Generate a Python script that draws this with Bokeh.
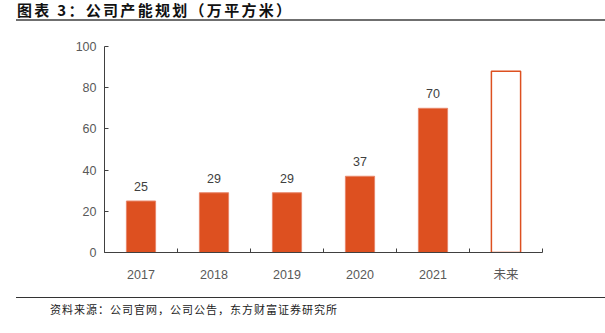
from bokeh.plotting import figure
from bokeh.models import ColumnDataSource, LabelSet, FixedTicker, Range1d, Div, Column
from bokeh.core.properties import value
from bokeh.embed import file_html
from bokeh.resources import INLINE

categories = ["2017", "2018", "2019", "2020", "2021", "未来"]
values = [25, 29, 29, 37, 70, 88]
labels = ["25", "29", "29", "37", "70", ""]
filled = [True, True, True, True, True, False]

title_text = "图表 3：公司产能规划（万平方米）"
source_text = "资料来源：公司官网，公司公告，东方财富证券研究所"

BAR = "#DD5020"

xs = [i + 0.5 for i in range(len(categories))]
src_f = ColumnDataSource(dict(x=[x for x, f in zip(xs, filled) if f],
                              top=[v for v, f in zip(values, filled) if f],
                              lab=[l for l, f in zip(labels, filled) if f]))
src_o = ColumnDataSource(dict(x=[x for x, f in zip(xs, filled) if not f],
                              top=[v for v, f in zip(values, filled) if not f]))

p = figure(width=605, height=272, output_backend="svg", toolbar_location=None,
           x_range=Range1d(0, len(categories)), y_range=Range1d(0, 100),
           min_border_left=104, min_border_right=63, min_border_top=23, min_border_bottom=43)
p.outline_line_color = None
p.xgrid.visible = False
p.ygrid.visible = False
p.background_fill_color = "white"
p.border_fill_color = "white"

p.vbar(x="x", top="top", width=0.4, bottom=0, source=src_f,
       fill_color=BAR, line_color="#E8866A", line_width=1)
p.vbar(x="x", top="top", width=0.4, bottom=0, source=src_o,
       fill_color="white", line_color=BAR, line_width=1.5)

p.add_layout(LabelSet(x="x", y="top", text="lab", source=src_f, y_offset=10,
                      text_align="center", text_baseline="bottom",
                      text_font=value("Liberation Sans"), text_font_size=value("12.5px"),
                      text_color="#404040"))

xa = p.xaxis[0]
xa.ticker = FixedTicker(ticks=xs, minor_ticks=list(range(len(categories) + 1)))
xa.major_label_overrides = {x: c for x, c in zip(xs, categories)}
xa.major_tick_line_color = None
xa.minor_tick_in = 4
xa.minor_tick_out = 0
xa.minor_tick_line_color = "#404040"
xa.axis_line_color = "#404040"
xa.major_label_standoff = 9
xa.major_label_text_font = "Liberation Sans, Noto Sans CJK SC"
xa.major_label_text_font_size = "12.5px"
xa.major_label_text_color = "#595959"

ya = p.yaxis[0]
ya.ticker = FixedTicker(ticks=[0, 20, 40, 60, 80, 100])
ya.major_tick_in = 4
ya.major_tick_out = 0
ya.minor_tick_line_color = None
ya.major_tick_line_color = "#404040"
ya.axis_line_color = "#404040"
ya.major_label_standoff = 8
ya.major_label_text_font = "Liberation Sans"
ya.major_label_text_font_size = "12.5px"
ya.major_label_text_color = "#595959"

top_div = Div(width=605, height=23, margin=(0, 0, 0, 0), text=(
    '<div style="margin-left:16px;width:589px;height:19px;border-bottom:2px solid #6f6f6f;'
    'font-family:\'Noto Sans CJK SC\';font-weight:bold;font-size:15px;line-height:19px;'
    'letter-spacing:2.3px;color:#111;padding-left:1px;box-sizing:content-box;">' + title_text + '</div>'))
bot_div = Div(width=605, height=38, margin=(0, 0, 0, 0), text=(
    '<div style="margin-left:16px;margin-top:2px;width:589px;border-top:1px solid #333;"></div>'
    '<div style="margin-left:50px;margin-top:4px;font-family:\'Noto Sans CJK SC\';'
    'font-size:11px;line-height:14px;letter-spacing:1px;color:#222;">' + source_text + '</div>'))

layout = Column(top_div, p, bot_div, spacing=0, margin=(0, 0, 0, 0))
open("out.html", "w").write(file_html(layout, INLINE))
